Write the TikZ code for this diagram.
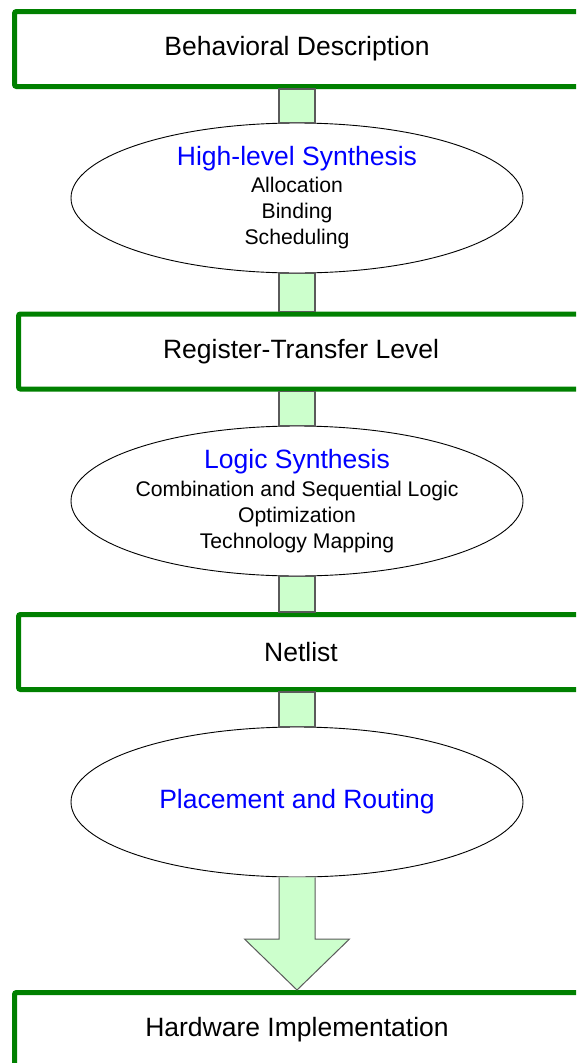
\documentclass[tikz,border=0pt]{standalone}
\usepackage{fontspec}
\setmainfont{Liberation Sans}
\usetikzlibrary{shapes.geometric}

\definecolor{flowgreen}{RGB}{0,128,0}
\definecolor{barfill}{RGB}{204,255,204}
\definecolor{baredge}{RGB}{90,90,90}
\definecolor{titleblue}{RGB}{0,0,255}
\newcommand{\bigfont}{\fontsize{26.5}{30}\selectfont}
\newcommand{\smallfont}{\fontsize{21.2}{26}\selectfont}

\begin{document}
\begin{tikzpicture}[x=1pt, y=1pt,
    level/.style={draw=flowgreen, line width=5pt, rounded corners=2pt,
        minimum width=565pt, minimum height=75pt, inner sep=0pt, font=\bigfont},
    synth/.style={ellipse, draw=black, line width=0.9pt, minimum width=452pt,
        minimum height=150pt, inner ysep=0pt, inner xsep=-10pt, align=center, font=\smallfont},
    bar/.style={draw=baredge, fill=barfill, line width=1.5pt},
    stage/.style={text=titleblue, font=\bigfont}]

        % fix the page size
        \useasboundingbox (0,0) rectangle (576,-1063);
        \clip (0,0) rectangle (576,-1063);

        % draw the levels
        \node[level] (behav) at (297,-49) {Behavioral Description};
        \node[level] (rtl) at (301,-351.5) {Register-Transfer Level};
        \node[level] (netlist) at (301,-652) {Netlist};
        \node[level] (hw) at (297,-1030) {Hardware Implementation};

        % draw the synthesis steps
        \node[synth] (hls) at (297,-198)
            {{\bigfont\color{titleblue}High-level Synthesis}\\[1pt]Allocation\\Binding\\Scheduling};
        \node[synth] (logic) at (297,-501)
            {{\bigfont\color{titleblue}Logic Synthesis}\\[2pt]Combination and Sequential Logic\\Optimization\\Technology Mapping};
        \node[synth] (pnr) at (297,-802)
            {{\bigfont\color{titleblue}Placement and Routing}};

        % draw the bars between the steps
        \draw[bar] ([xshift=-18pt]behav.south) rectangle ([xshift=18pt]hls.north);
        \draw[bar] ([xshift=-18pt]hls.south) rectangle ([xshift=18pt]hls.south |- rtl.north);
        \draw[bar] ([xshift=-18pt]logic.north |- rtl.south) rectangle ([xshift=18pt]logic.north);
        \draw[bar] ([xshift=-18pt]logic.south) rectangle ([xshift=18pt]logic.south |- netlist.north);
        \draw[bar] ([xshift=-18pt]pnr.north |- netlist.south) rectangle ([xshift=18pt]pnr.north);

        % draw the big arrow
        \coordinate (tip) at (pnr.south |- hw.north);
        \draw[bar, line width=1pt] ([xshift=-18pt]pnr.south) -- ([xshift=-18pt,yshift=51pt]tip)
            -- ([xshift=-52.5pt,yshift=51pt]tip) -- (tip) -- ([xshift=52.5pt,yshift=51pt]tip)
            -- ([xshift=18pt,yshift=51pt]tip) -- ([xshift=18pt]pnr.south);
    \end{tikzpicture}
\end{document}
